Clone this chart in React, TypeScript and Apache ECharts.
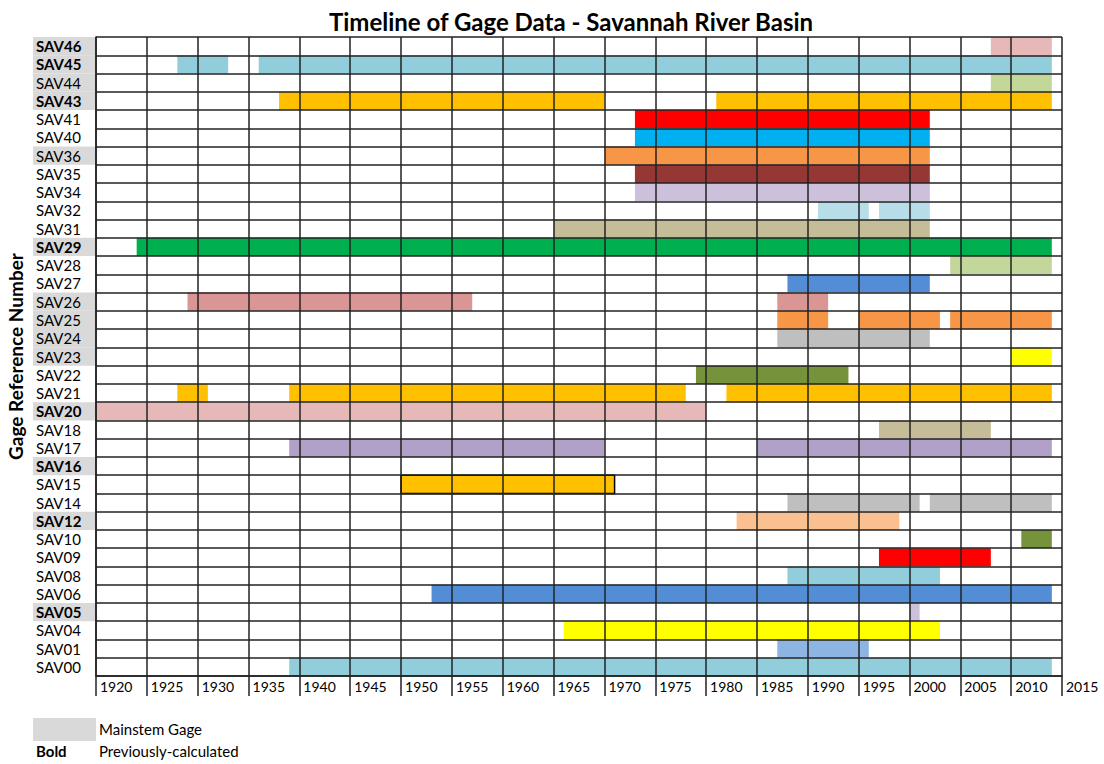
import React, { useEffect, useRef } from "react";
import * as echarts from "echarts";

const gages = [
  "SAV46", "SAV45", "SAV44", "SAV43", "SAV41", "SAV40", "SAV36", "SAV35", "SAV34",
  "SAV32", "SAV31", "SAV29", "SAV28", "SAV27", "SAV26", "SAV25", "SAV24", "SAV23",
  "SAV22", "SAV21", "SAV20", "SAV18", "SAV17", "SAV16", "SAV15", "SAV14", "SAV12",
  "SAV10", "SAV09", "SAV08", "SAV06", "SAV05", "SAV04", "SAV01", "SAV00",
];

const mainstemGages = [
  "SAV46", "SAV45", "SAV44", "SAV43", "SAV36", "SAV29", "SAV26", "SAV25",
  "SAV24", "SAV23", "SAV20", "SAV16", "SAV12", "SAV05",
];

const boldGages = ["SAV46", "SAV45", "SAV43", "SAV29", "SAV20", "SAV16", "SAV12", "SAV05"];

// [gage, start year, end year]
const periods: [string, number, number][] = [
  ["SAV46", 2008, 2014],
  ["SAV45", 1928, 1933],
  ["SAV45", 1936, 2014],
  ["SAV44", 2008, 2014],
  ["SAV43", 1938, 1970],
  ["SAV43", 1981, 2014],
  ["SAV41", 1973, 2002],
  ["SAV40", 1973, 2002],
  ["SAV36", 1970, 2002],
  ["SAV35", 1973, 2002],
  ["SAV34", 1973, 2002],
  ["SAV32", 1991, 1996],
  ["SAV32", 1997, 2002],
  ["SAV31", 1965, 2002],
  ["SAV29", 1924, 2014],
  ["SAV28", 2004, 2014],
  ["SAV27", 1988, 2002],
  ["SAV26", 1929, 1957],
  ["SAV26", 1987, 1992],
  ["SAV25", 1987, 1992],
  ["SAV25", 1995, 2003],
  ["SAV25", 2004, 2014],
  ["SAV24", 1987, 2002],
  ["SAV23", 2010, 2014],
  ["SAV22", 1979, 1994],
  ["SAV21", 1928, 1931],
  ["SAV21", 1939, 1978],
  ["SAV21", 1982, 2014],
  ["SAV20", 1920, 1980],
  ["SAV18", 1997, 2008],
  ["SAV17", 1939, 1970],
  ["SAV17", 1985, 2014],
  ["SAV15", 1950, 1971],
  ["SAV14", 1988, 2001],
  ["SAV14", 2002, 2014],
  ["SAV12", 1983, 1999],
  ["SAV10", 2011, 2014],
  ["SAV09", 1997, 2008],
  ["SAV08", 1988, 2003],
  ["SAV06", 1953, 2014],
  ["SAV05", 2000, 2001],
  ["SAV04", 1966, 2003],
  ["SAV01", 1987, 1996],
  ["SAV00", 1939, 2014],
];

const gageColors: Record<string, string> = {
  SAV46: "#e6b8b7",
  SAV45: "#92cddc",
  SAV44: "#c4d79b",
  SAV43: "#ffc000",
  SAV41: "#ff0000",
  SAV40: "#00b0f0",
  SAV36: "#f79646",
  SAV35: "#953735",
  SAV34: "#ccc0da",
  SAV32: "#b7dee8",
  SAV31: "#c4bd97",
  SAV29: "#00b050",
  SAV28: "#c4d79b",
  SAV27: "#538dd5",
  SAV26: "#da9694",
  SAV25: "#f79646",
  SAV24: "#bfbfbf",
  SAV23: "#ffff00",
  SAV22: "#76933c",
  SAV21: "#ffc000",
  SAV20: "#e6b8b7",
  SAV18: "#c4bd97",
  SAV17: "#b1a0c7",
  SAV15: "#ffc000",
  SAV14: "#bfbfbf",
  SAV12: "#fac090",
  SAV10: "#76933c",
  SAV09: "#ff0000",
  SAV08: "#92cddc",
  SAV06: "#538dd5",
  SAV05: "#ccc0da",
  SAV04: "#ffff00",
  SAV01: "#8db4e2",
  SAV00: "#92cddc",
};

const borderedGages = ["SAV15"];

const FONT = "Lato";
const LINE = "#222222";

export default function App() {
  const ref = useRef<HTMLDivElement>(null);

  useEffect(() => {
    if (!ref.current) return;
    const chart = echarts.init(ref.current, null, { renderer: "svg" });

    const option: any = {
      animation: false,
      backgroundColor: "#ffffff",
      title: {
        text: "Timeline of Gage Data - Savannah River Basin",
        left: 566,
        top: 4,
        textAlign: "center",
        textStyle: { fontFamily: FONT, fontWeight: "bold", fontSize: 24, color: "#000" },
      },
      grid: {
        left: 96,
        right: 42,
        top: 37,
        bottom: 88,
        containLabel: false,
        outerBoundsMode: "none",
      },
      xAxis: {
        type: "value",
        min: 1920,
        max: 2015,
        interval: 5,
        z: 5,
        axisLine: { show: true, lineStyle: { color: LINE, width: 1.5 } },
        axisTick: { show: true, length: 20, lineStyle: { color: LINE, width: 1.5 } },
        axisLabel: {
          align: "left",
          margin: 3,
          padding: [0, 0, 0, 4],
          fontFamily: FONT,
          fontSize: 14,
          color: "#000",
          showMinLabel: true,
          showMaxLabel: true,
          formatter: (v: number) => String(v),
        },
        splitLine: { show: true, lineStyle: { color: LINE, width: 1.5 } },
      },
      yAxis: {
        type: "category",
        data: gages,
        inverse: true,
        z: 5,
        name: "Gage Reference Number",
        nameLocation: "middle",
        nameGap: 70,
        nameRotate: 90,
        nameTextStyle: { fontFamily: FONT, fontWeight: "bold", fontSize: 19, color: "#000" },
        axisLine: { show: true, lineStyle: { color: LINE, width: 1.5 } },
        axisTick: { show: false },
        splitLine: { show: true, interval: 0, lineStyle: { color: LINE, width: 1.5 } },
        axisLabel: {
          interval: 0,
          align: "left",
          margin: 60,
          fontFamily: FONT,
          fontSize: 15,
          color: "#000",
          formatter: (v: string) => (boldGages.includes(v) ? `{b|${v}}` : `{n|${v}}`),
          rich: {
            b: { fontFamily: FONT, fontSize: 15, fontWeight: "bold", color: "#000" },
            n: { fontFamily: FONT, fontSize: 15, color: "#000" },
          },
        },
      },
      series: [
        {
          type: "custom",
          name: "mainstem",
          silent: true,
          clip: false,
          z: 1,
          encode: { x: 1, y: 0 },
          data: mainstemGages.map((g) => [g, 1920]),
          renderItem: (params: any, api: any) => {
            const p = api.coord([api.value(1), api.value(0)]);
            const h = api.size([0, 1])[1];
            const gx = params.coordSys.x;
            return {
              type: "rect",
              shape: { x: gx - 63, y: p[1] - h / 2, width: 63, height: h },
              style: { fill: "#d9d9d9" },
            };
          },
        },
        {
          type: "custom",
          name: "periods",
          silent: true,
          z: 2,
          dimensions: [{ name: "gage", type: "ordinal" }, "start", "end"],
          encode: { x: [1, 2], y: 0 },
          data: periods.map(([g, s, e]) => ({
            value: [g, s, e],
            itemStyle: borderedGages.includes(g)
              ? { color: gageColors[g], borderColor: "#000", borderWidth: 1.5 }
              : { color: gageColors[g] },
          })),
          renderItem: (params: any, api: any) => {
            const cat = api.value(0);
            const s = api.coord([api.value(1), cat]);
            const e = api.coord([api.value(2), cat]);
            const h = api.size([0, 1])[1];
            return {
              type: "rect",
              shape: { x: s[0], y: s[1] - h / 2, width: e[0] - s[0], height: h },
              style: api.style(),
            };
          },
        },
      ],
      graphic: [
        {
          type: "rect",
          left: 33,
          top: 718,
          shape: { width: 63, height: 23 },
          style: { fill: "#d9d9d9" },
        },
        {
          type: "text",
          left: 99,
          top: 721,
          style: { text: "Mainstem Gage", font: `15px ${FONT}`, fill: "#000" },
        },
        {
          type: "text",
          left: 36,
          top: 743,
          style: { text: "Bold", font: `bold 15px ${FONT}`, fill: "#000" },
        },
        {
          type: "text",
          left: 99,
          top: 743,
          style: { text: "Previously-calculated", font: `15px ${FONT}`, fill: "#000" },
        },
      ],
    };

    chart.setOption(option);
    return () => chart.dispose();
  }, []);

  return (
    <div
      ref={ref}
      style={{ position: "absolute", left: 0, top: 0, width: 1104, height: 764 }}
    />
  );
}
